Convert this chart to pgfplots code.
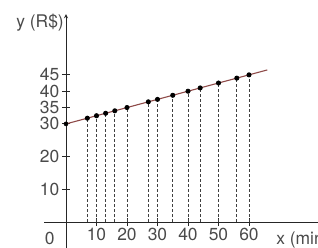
\documentclass[border=0pt]{standalone}
\usepackage{pgfplots}
\pgfplotsset{compat=1.18}
\usepackage{fontspec}
\setmainfont{TeX Gyre Heros}
\definecolor{txt}{HTML}{4A4A4A}
\definecolor{redline}{HTML}{8E4A48}
\begin{document}
\begin{tikzpicture}
\useasboundingbox (-66bp,-26bp) rectangle (252bp,222bp);
\begin{axis}[
  at={(0,0)}, anchor=origin,
  x=3.05bp, y=3.27bp,
  axis lines=middle,
  xmin=-7.2, xmax=85, ymin=-9, ymax=63.6,
  axis line style={black!85, line width=0.9bp},
  x axis line style={-},
  y axis line style={-stealth},
  xtick={10,20,30,40,50,60},
  ytick={10,20,30,35,40,45},
  tick align=center,
  major tick length=8bp,
  tick style={black!85, line width=0.8bp},
  ticklabel style={font=\fontsize{17.5}{19}\selectfont, text=txt, inner sep=2.5bp},
  xticklabel style={inner sep=1.5bp},
  /pgf/number format/assume math mode=true,
  clip=false,
]
\addplot[redline, line width=1.1bp] coordinates {(0,30) (66,46.5)};
\addplot[ycomb, black!75, line width=0.8bp, dash pattern=on 3bp off 2bp,
  mark=*, mark size=2.1bp, mark options={solid, fill=black, draw=black}]
  coordinates {
  (7,31.75) (10,32.5) (13,33.25) (16,34) (20,35) (27,36.75) (30,37.5)
  (35,38.75) (40,40) (44,41) (50,42.5) (56,44) (60,45)};
\addplot[only marks, mark=*, mark size=2.1bp, black] coordinates {(0,30)};
\node[anchor=east, font=\fontsize{17.5}{19}\selectfont, text=txt, inner sep=2bp] at (axis cs:0,61) {y (R\$)};
\node[anchor=base, font=\fontsize{17.5}{19}\selectfont, text=txt, inner sep=0pt] at (axis cs:-5.3,-6.8) {0};
\node[anchor=base west, font=\fontsize{17.5}{19}\selectfont, text=txt, inner sep=0pt] at (axis cs:68.9,-6.8) {x (min)};
\end{axis}
\end{tikzpicture}
\end{document}
